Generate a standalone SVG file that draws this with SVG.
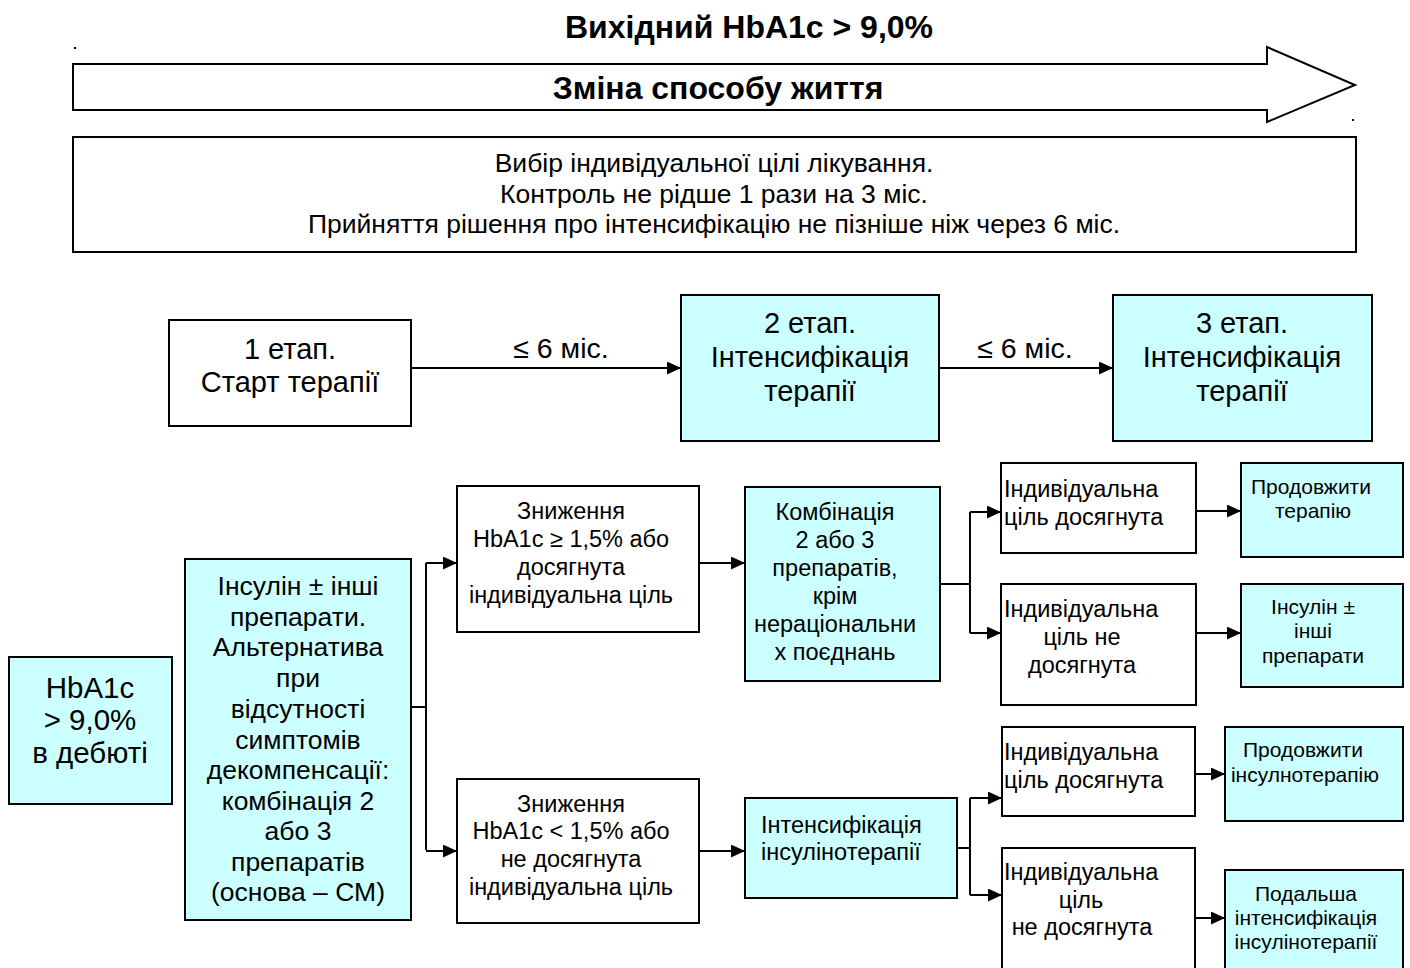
<svg xmlns="http://www.w3.org/2000/svg" width="1410" height="968" viewBox="0 0 1410 968">
<style>
text{font-family:"Liberation Sans",Arial,sans-serif;fill:#000}
.b{stroke:#000;stroke-width:2;fill:#fff}
.c{stroke:#000;stroke-width:2;fill:#CCFFFF}
.t{font-size:23.5px;text-anchor:middle}
.s{font-size:21px;text-anchor:middle}
.l{font-size:23.5px;text-anchor:start}
.w{stroke:#000;stroke-width:2;fill:none}
.g{font-size:26.5px;text-anchor:middle}
.st{font-size:29px;text-anchor:middle}
</style>
<defs>
<marker id="ah" markerUnits="userSpaceOnUse" markerWidth="14" markerHeight="13" refX="14" refY="6.5" orient="auto">
<path d="M0,0 L14,6.5 L0,13 Z" fill="#000"/>
</marker>
</defs>
<rect width="1410" height="968" fill="#fff"/>
<g id="title">
<text x="749" y="38" style="font-size:32px;font-weight:bold;text-anchor:middle">Вихідний HbA1c &gt; 9,0%</text>
</g>
<g id="lifestyle">
<rect x="74" y="47" width="2" height="2" fill="#000"/>
<rect x="1352" y="119" width="2" height="2" fill="#000"/>
<path d="M73,64 L1267,64 L1267,47 L1355,85 L1267,122 L1267,110 L73,110 Z" class="b" stroke-width="1.5"/>
<text x="718" y="99" style="font-size:32px;font-weight:bold;text-anchor:middle">Зміна способу життя</text>
</g>
<g id="goal">
<rect x="73" y="137" width="1283" height="115" class="b"/>
<text class="g" x="714" y="172">Вибір індивідуальної цілі лікування.</text>
<text class="g" x="714" y="203">Контроль не рідше 1 рази на 3 міс.</text>
<text class="g" x="714" y="233">Прийняття рішення про інтенсифікацію не пізніше ніж через 6 міс.</text>
</g>
<g id="stage1">
<rect x="169" y="320" width="242" height="106" class="b"/>
<text class="st" x="290" y="359">1 етап.</text>
<text class="st" x="290" y="392">Старт терапії</text>
</g>
<g id="stage2">
<rect x="681" y="295" width="258" height="146" class="c"/>
<text class="st" x="810" y="333">2 етап.</text>
<text class="st" x="810" y="367">Інтенсифікація</text>
<text class="st" x="810" y="401">терапії</text>
</g>
<g id="stage3">
<rect x="1113" y="295" width="259" height="146" class="c"/>
<text class="st" x="1242" y="333">3 етап.</text>
<text class="st" x="1242" y="367">Інтенсифікація</text>
<text class="st" x="1242" y="401">терапії</text>
</g>
<g id="hba1c">
<rect x="9" y="657" width="163" height="147" class="c"/>
<text x="90" y="698" style="font-size:29.5px;text-anchor:middle">HbA1c</text>
<text x="90" y="730" style="font-size:29.5px;text-anchor:middle">&gt; 9,0%</text>
<text x="90" y="763" style="font-size:29.5px;text-anchor:middle">в дебюті</text>
</g>
<g id="insulin">
<rect x="185" y="559" width="226" height="361" class="c"/>
<g style="font-size:26.5px;text-anchor:middle">
<text x="298" y="595">Інсулін ± інші</text>
<text x="298" y="626">препарати.</text>
<text x="298" y="656">Альтернатива</text>
<text x="298" y="687">при</text>
<text x="298" y="718">відсутності</text>
<text x="298" y="749">симптомів</text>
<text x="298" y="779">декомпенсації:</text>
<text x="298" y="810">комбінація 2</text>
<text x="298" y="840">або 3</text>
<text x="298" y="871">препаратів</text>
<text x="298" y="901">(основа – СМ)</text>
</g>
</g>
<g id="reduce-good">
<rect x="457" y="486" width="242" height="146" class="b"/>
<text class="t" x="571" y="519">Зниження</text>
<text class="t" x="571" y="547">HbA1c ≥ 1,5% або</text>
<text class="t" x="571" y="575">досягнута</text>
<text class="t" x="571" y="603">індивідуальна ціль</text>
</g>
<g id="reduce-bad">
<rect x="457" y="779" width="242" height="144" class="b"/>
<text class="t" x="571" y="812">Зниження</text>
<text class="t" x="571" y="839">HbA1c &lt; 1,5% або</text>
<text class="t" x="571" y="867">не досягнута</text>
<text class="t" x="571" y="895">індивідуальна ціль</text>
</g>
<g id="combo">
<rect x="745" y="487" width="195" height="194" class="c"/>
<text class="t" x="835" y="520">Комбінація</text>
<text class="t" x="835" y="548">2 або 3</text>
<text class="t" x="835" y="576">препаратів,</text>
<text class="t" x="835" y="604">крім</text>
<text class="t" x="835" y="632">нераціональни</text>
<text class="t" x="835" y="660">х поєднань</text>
</g>
<g id="ins-int">
<rect x="745" y="798" width="212" height="100" class="c"/>
<text class="l" x="761" y="833">Інтенсифікація</text>
<text class="l" x="761" y="860">інсулінотерапії</text>
</g>
<g id="goal-a1">
<rect x="1001" y="463" width="195" height="90" class="b"/>
<text class="l" x="1004" y="497">Індивідуальна</text>
<text class="l" x="1004" y="525">ціль досягнута</text>
</g>
<g id="goal-n1">
<rect x="1001" y="584" width="195" height="121" class="b"/>
<text class="l" x="1004" y="617">Індивідуальна</text>
<text class="t" x="1082" y="645">ціль не</text>
<text class="t" x="1082" y="673">досягнута</text>
</g>
<g id="goal-a2">
<rect x="1002" y="727" width="193" height="89" class="b"/>
<text class="l" x="1004" y="760">Індивідуальна</text>
<text class="l" x="1004" y="788">ціль досягнута</text>
</g>
<g id="goal-n2">
<rect x="1002" y="848" width="193" height="130" class="b"/>
<text class="l" x="1004" y="880">Індивідуальна</text>
<text class="t" x="1081" y="908">ціль</text>
<text class="t" x="1082" y="935">не досягнута</text>
</g>
<g id="cont">
<rect x="1241" y="463" width="162" height="94" class="c"/>
<text class="s" x="1311" y="494">Продовжити</text>
<text class="s" x="1313" y="518">терапію</text>
</g>
<g id="ins-other">
<rect x="1241" y="584" width="162" height="103" class="c"/>
<text class="s" x="1313" y="614">Інсулін ±</text>
<text class="s" x="1313" y="638">інші</text>
<text class="s" x="1313" y="663">препарати</text>
</g>
<g id="cont-ins">
<rect x="1225" y="727" width="178" height="94" class="c"/>
<text class="s" x="1303" y="757">Продовжити</text>
<text class="s" x="1305" y="782">інсулнотерапію</text>
</g>
<g id="further">
<rect x="1225" y="870" width="178" height="108" class="c"/>
<text class="s" x="1306" y="901">Подальша</text>
<text class="s" x="1306" y="925">інтенсифікація</text>
<text class="s" x="1306" y="949">інсулінотерапії</text>
</g>
<g id="connectors">
<line x1="411" y1="368" x2="681" y2="368" class="w" marker-end="url(#ah)"/>
<text x="561" y="358" style="font-size:28.5px;text-anchor:middle">≤ 6 міс.</text>
<line x1="939" y1="368" x2="1113" y2="368" class="w" marker-end="url(#ah)"/>
<text x="1025" y="358" style="font-size:28.5px;text-anchor:middle">≤ 6 міс.</text>
<path d="M411,707 H426 M426,563 V850" class="w"/>
<path d="M426,563 H457" class="w" marker-end="url(#ah)"/>
<path d="M426,851 H457" class="w" marker-end="url(#ah)"/>
<path d="M699,563 H745" class="w" marker-end="url(#ah)"/>
<path d="M699,851 H745" class="w" marker-end="url(#ah)"/>
<path d="M940,584 H970 M970,512 V633" class="w"/>
<path d="M970,512 H1001" class="w" marker-end="url(#ah)"/>
<path d="M970,633 H1001" class="w" marker-end="url(#ah)"/>
<path d="M957,848 H970 M970,798 V895" class="w"/>
<path d="M970,798 H1002" class="w" marker-end="url(#ah)"/>
<path d="M970,895 H1002" class="w" marker-end="url(#ah)"/>
<path d="M1196,511 H1241" class="w" marker-end="url(#ah)"/>
<path d="M1196,633 H1241" class="w" marker-end="url(#ah)"/>
<path d="M1195,774 H1225" class="w" marker-end="url(#ah)"/>
<path d="M1195,918 H1225" class="w" marker-end="url(#ah)"/>
</g>
</svg>
